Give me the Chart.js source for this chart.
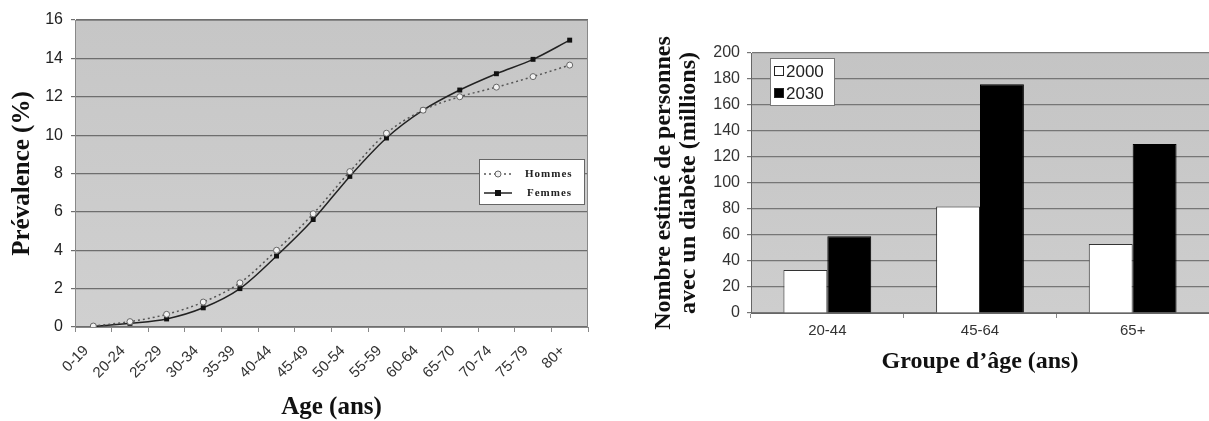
<!DOCTYPE html>
<html lang="fr">
<head>
<meta charset="utf-8">
<title>Diabète – prévalence et projections</title>
<script src="https://cdn.jsdelivr.net/npm/chart.js@4/dist/chart.umd.min.js"></script>
<style>
  html, body { margin: 0; padding: 0; background: #fff; }
  body { width: 1209px; height: 421px; position: relative; overflow: hidden; }
  canvas { position: absolute; top: 0; }
  #chartPrevalence { left: 0; }
  #chartProjection { left: 600px; }
</style>
</head>
<body>
<canvas id="chartPrevalence" width="600" height="421"></canvas>
<canvas id="chartProjection" width="609" height="421"></canvas>
<script>
'use strict';

// Graphique de gauche : prévalence par tranche d'âge
const trancheAge = ['0-19', '20-24', '25-29', '30-34', '35-39', '40-44', '45-49',
                    '50-54', '55-59', '60-64', '65-70', '70-74', '75-79', '80+'];
const hommes = [0.05, 0.28, 0.66, 1.3, 2.3, 4.0, 5.9, 8.1, 10.1, 11.3, 12.0, 12.5, 13.05, 13.65];
const femmes = [0.02, 0.19, 0.42, 1.0, 2.0, 3.7, 5.6, 7.85, 9.85, 11.3, 12.35, 13.2, 13.95, 14.95];
const ticksPrevalence = [0, 2, 4, 6, 8, 10, 12, 14, 16];

// Graphique de droite : nombre estimé de personnes (millions)
const groupeAge = ['20-44', '45-64', '65+'];
const annees = ['2000', '2030'];
const valeurs2000 = [33, 82, 53];
const valeurs2030 = [59, 176, 130];
const ticksProjection = [0, 20, 40, 60, 80, 100, 120, 140, 160, 180, 200];

const SANS  = "'Liberation Sans', Arial, sans-serif";
const SERIF = "'Liberation Serif', 'Times New Roman', serif";

Chart.defaults.animation = false;
Chart.defaults.color = '#222';

// Fond gris de la zone de tracé + cadre
const fondZone = {
  id: 'fondZone',
  beforeDraw(chart, args, opts) {
    const { ctx, chartArea: a } = chart;
    ctx.save();
    const grad = ctx.createLinearGradient(0, a.top, 0, a.bottom);
    grad.addColorStop(0, opts.haut);
    grad.addColorStop(1, opts.bas);
    ctx.fillStyle = grad;
    ctx.fillRect(a.left, a.top, a.right - a.left, a.bottom - a.top);
    ctx.restore();
  },
  afterDraw(chart, args, opts) {
    if (!opts.cadre) return;
    const { ctx, chartArea: a } = chart;
    ctx.save();
    ctx.strokeStyle = opts.cadre;
    ctx.lineWidth = 1;
    ctx.strokeRect(a.left + 0.5, a.top + 0.5, a.right - a.left - 1, a.bottom - a.top);
    ctx.restore();
  }
};

// Légende encadrée à l'intérieur de la zone de tracé (graphique de gauche)
const legendeLignes = {
  id: 'legendeLignes',
  afterDraw(chart) {
    const { ctx, chartArea: a } = chart;
    const x = a.right - 109, y = a.top + 139, w = 105, h = 45;
    ctx.save();
    ctx.fillStyle = '#fff';
    ctx.fillRect(x, y, w, h);
    ctx.strokeStyle = '#666';
    ctx.lineWidth = 1;
    ctx.strokeRect(x + 0.5, y + 0.5, w, h);
    chart.data.datasets.forEach((ds, i) => {
      const cy = y + 15 + i * 19;
      ctx.strokeStyle = ds.borderColor;
      ctx.lineWidth = ds.borderWidth;
      ctx.setLineDash(ds.borderDash || []);
      ctx.beginPath();
      ctx.moveTo(x + 5, cy);
      ctx.lineTo(x + 33, cy);
      ctx.stroke();
      ctx.setLineDash([]);
      ctx.fillStyle = ds.pointBackgroundColor;
      ctx.strokeStyle = ds.pointBorderColor;
      ctx.lineWidth = 1;
      if (ds.pointStyle === 'rect') {
        ctx.fillRect(x + 16, cy - 3, 6, 6);
      } else {
        ctx.beginPath();
        ctx.arc(x + 19, cy, 3, 0, Math.PI * 2);
        ctx.fill();
        ctx.stroke();
      }
      ctx.fillStyle = '#222';
      ctx.font = 'bold 11px ' + SERIF;
      ctx.textBaseline = 'middle';
      ctx.textAlign = 'left';
      if ('letterSpacing' in ctx) ctx.letterSpacing = '1px';
      ctx.fillText(ds.label, x + 46 + (i ? 2 : 0), cy);
      if ('letterSpacing' in ctx) ctx.letterSpacing = '0px';
    });
    ctx.restore();
  }
};

// Légende encadrée en haut à gauche (graphique de droite)
const legendeBarres = {
  id: 'legendeBarres',
  afterDraw(chart) {
    const { ctx, chartArea: a } = chart;
    const x = a.left + 19, y = a.top + 5, w = 64, h = 47;
    ctx.save();
    ctx.fillStyle = '#fff';
    ctx.fillRect(x, y, w, h);
    ctx.strokeStyle = '#777';
    ctx.lineWidth = 1;
    ctx.strokeRect(x + 0.5, y + 0.5, w, h);
    chart.data.datasets.forEach((ds, i) => {
      const cy = y + 13 + i * 22;
      ctx.fillStyle = ds.backgroundColor;
      ctx.fillRect(x + 4, cy - 5, 10, 10);
      ctx.strokeStyle = '#222';
      ctx.strokeRect(x + 4.5, cy - 4.5, 9, 9);
      ctx.fillStyle = '#222';
      ctx.font = '17px ' + SANS;
      ctx.textBaseline = 'middle';
      ctx.textAlign = 'left';
      ctx.fillText(ds.label, x + 16, cy + 1);
    });
    ctx.restore();
  }
};

new Chart(document.getElementById('chartPrevalence'), {
  type: 'line',
  data: {
    labels: trancheAge,
    datasets: [
      {
        label: 'Hommes',
        data: hommes,
        borderColor: '#555',
        borderWidth: 1.5,
        borderDash: [2, 3],
        pointStyle: 'circle',
        pointRadius: 3,
        pointBackgroundColor: '#f2f2f2',
        pointBorderColor: '#666',
        pointBorderWidth: 1,
        cubicInterpolationMode: 'monotone',
      },
      {
        label: 'Femmes',
        data: femmes,
        borderColor: '#222',
        borderWidth: 1.5,
        pointStyle: 'rect',
        pointRadius: 3.5,
        pointBackgroundColor: '#111',
        pointBorderColor: '#111',
        pointBorderWidth: 0,
        cubicInterpolationMode: 'monotone',
      },
    ],
  },
  options: {
    responsive: false,
    layout: { padding: { top: 20, right: 12, left: 0, bottom: 0 } },
    plugins: {
      legend: { display: false },
      tooltip: { enabled: false },
      fondZone: { haut: '#c6c6c6', bas: '#d0d0d0', cadre: '#888' },
    },
    scales: {
      x: {
        offset: true,
        afterFit(scale) { scale.height = 94; },
        grid: { display: true, offset: true, drawOnChartArea: false, color: '#888', tickLength: 5 },
        border: { color: '#888' },
        ticks: {
          autoSkip: false, minRotation: 45, maxRotation: 45, padding: 10, labelOffset: -7,
          font: { family: SANS, size: 15 }, color: '#333',
        },
        title: {
          display: true, text: 'Age (ans)', color: '#111',
          font: { family: SERIF, size: 25, weight: 'bold', lineHeight: 1.1 },
          padding: { top: 0, bottom: 0 },
        },
      },
      y: {
        min: 0, max: 16,
        afterFit(scale) { scale.width = 75; },
        afterBuildTicks(scale) { scale.ticks = ticksPrevalence.map(v => ({ value: v })); },
        grid: { color: '#6e6e6e', lineWidth: 1.2, tickLength: 4 },
        border: { color: '#888' },
        ticks: { padding: 8, font: { family: SANS, size: 16 }, color: '#222' },
        title: {
          display: true, text: 'Prévalence (%)', color: '#111',
          font: { family: SERIF, size: 25, weight: 'bold' },
          padding: { top: 8, bottom: 0 },
        },
      },
    },
  },
  plugins: [fondZone, legendeLignes],
});

new Chart(document.getElementById('chartProjection'), {
  type: 'bar',
  data: {
    labels: groupeAge,
    datasets: [
      {
        label: annees[0],
        data: valeurs2000,
        backgroundColor: '#ffffff',
        borderColor: '#333',
        borderWidth: 1,
        barPercentage: 1,
        categoryPercentage: 0.575,
      },
      {
        label: annees[1],
        data: valeurs2030,
        backgroundColor: '#000000',
        borderColor: '#000',
        borderWidth: 1,
        barPercentage: 1,
        categoryPercentage: 0.575,
      },
    ],
  },
  options: {
    responsive: false,
    layout: { padding: { top: 53, right: 0, left: 0, bottom: 0 } },
    plugins: {
      legend: { display: false },
      tooltip: { enabled: false },
      fondZone: { haut: '#c4c4c4', bas: '#cecece', cadre: null },
    },
    scales: {
      x: {
        afterFit(scale) { scale.height = 108; },
        grid: { display: true, offset: true, drawOnChartArea: false, color: '#888', tickLength: 5 },
        border: { color: '#666' },
        ticks: { padding: 4, font: { family: SANS, size: 15 }, color: '#333' },
        title: {
          display: true, text: 'Groupe d’âge (ans)', color: '#111',
          font: { family: SERIF, size: 24, weight: 'bold' },
          padding: { top: 0, bottom: 45 },
        },
      },
      y: {
        min: 0, max: 200,
        afterFit(scale) { scale.width = 151; },
        afterBuildTicks(scale) { scale.ticks = ticksProjection.map(v => ({ value: v })); },
        grid: { color: '#767676', lineWidth: 1.2, tickLength: 4 },
        border: { color: '#666' },
        ticks: { padding: 7, font: { family: SANS, size: 16 }, color: '#333' },
        title: {
          display: true,
          text: ['Nombre estimé de personnes', 'avec un diabète (millions)'],
          color: '#111',
          font: { family: SERIF, size: 24, weight: 'bold', lineHeight: 1.05 },
          padding: { top: 51, bottom: 0 },
        },
      },
    },
  },
  plugins: [fondZone, legendeBarres],
});
</script>
</body>
</html>
